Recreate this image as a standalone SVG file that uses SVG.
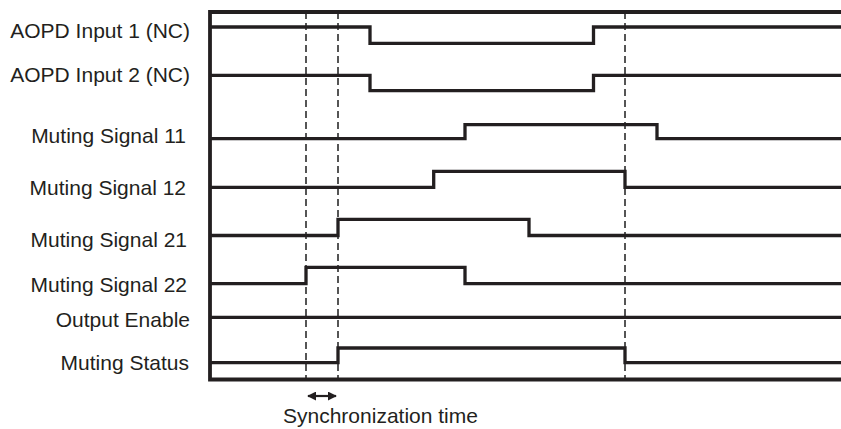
<svg xmlns="http://www.w3.org/2000/svg" width="841" height="429" viewBox="0 0 841 429">
<style>
.lbl{font-family:"Liberation Sans",Arial,sans-serif;font-size:21px;fill:#231f20;text-anchor:end}
.sig{fill:none;stroke:#231f20;stroke-width:3.3;stroke-linejoin:miter;stroke-linecap:butt}
.frame{fill:none;stroke:#231f20;stroke-width:3.8;stroke-linejoin:miter}
.dash{stroke:#555;stroke-width:2;stroke-dasharray:7 4}
</style>
<defs>
<marker id="ah" viewBox="0 0 10 10" refX="9" refY="5" markerWidth="9" markerHeight="9" markerUnits="userSpaceOnUse" orient="auto-start-reverse">
<path d="M0,0 L10,5 L0,10 Z" fill="#231f20"/>
</marker>
</defs>
<rect width="841" height="429" fill="#fff"/>
<g id="guides">
<line class="dash" x1="306" y1="12" x2="306" y2="380"/>
<line class="dash" x1="338" y1="12" x2="338" y2="380"/>
<line class="dash" x1="625" y1="12" x2="625" y2="380"/>
</g>
<g id="frame">
<polyline class="frame" points="841,12 210,12 210,379.5 841,379.5"/>
</g>
<g id="aopd1">
<text class="lbl" x="190" y="38">AOPD Input 1 (NC)</text>
<polyline class="sig" points="210,27 370,27 370,43.3 593.5,43.3 593.5,27 841,27"/>
</g>
<g id="aopd2">
<text class="lbl" x="190" y="82">AOPD Input 2 (NC)</text>
<polyline class="sig" points="210,75.3 370,75.3 370,90.7 593.5,90.7 593.5,75.3 841,75.3"/>
</g>
<g id="ms11">
<text class="lbl" x="186" y="143">Muting Signal 11</text>
<polyline class="sig" points="210,138.7 465,138.7 465,124.7 657,124.7 657,138.7 841,138.7"/>
</g>
<g id="ms12">
<text class="lbl" x="186" y="195">Muting Signal 12</text>
<polyline class="sig" points="210,187.3 433.7,187.3 433.7,171.3 625,171.3 625,187.3 841,187.3"/>
</g>
<g id="ms21">
<text class="lbl" x="187" y="247">Muting Signal 21</text>
<polyline class="sig" points="210,235.5 338,235.5 338,219.3 529,219.3 529,235.5 841,235.5"/>
</g>
<g id="ms22">
<text class="lbl" x="187" y="292">Muting Signal 22</text>
<polyline class="sig" points="210,283.7 306,283.7 306,267.3 465,267.3 465,283.7 841,283.7"/>
</g>
<g id="oe">
<text class="lbl" x="190" y="327">Output Enable</text>
<polyline class="sig" points="210,317.3 841,317.3"/>
</g>
<g id="mstatus">
<text class="lbl" x="189" y="370">Muting Status</text>
<polyline class="sig" points="210,362.7 338,362.7 338,348 625,348 625,362.7 841,362.7"/>
</g>
<g id="sync">
<line x1="308" y1="396" x2="336" y2="396" stroke="#231f20" stroke-width="2.2" marker-start="url(#ah)" marker-end="url(#ah)"/>
<text class="lbl" x="283" y="423" style="text-anchor:start">Synchronization time</text>
</g>
</svg>
